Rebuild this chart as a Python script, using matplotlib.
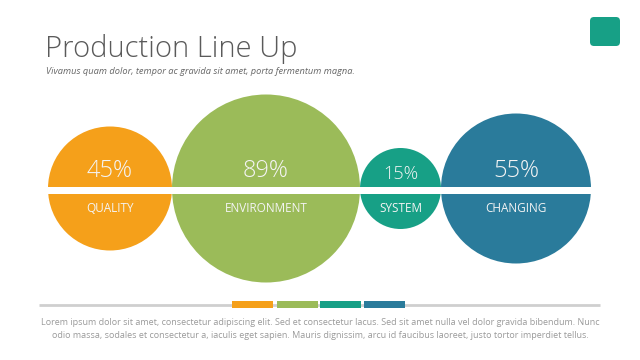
import matplotlib
matplotlib.use("Agg")
import matplotlib.pyplot as plt
from matplotlib import font_manager
from matplotlib.patches import Circle, Rectangle, FancyBboxPatch

# chart data
categories = ["QUALITY", "ENVIRONMENT", "SYSTEM", "CHANGING"]
values = [45, 89, 15, 55]
colors = ["#F5A01A", "#9BBB59", "#17A086", "#2A7B9B"]

title = "Production Line Up"
subtitle = "Vivamus quam dolor, tempor ac gravida sit amet, porta fermentum magna."
footer = [
    "Lorem ipsum dolor sit amet, consectetur adipiscing elit. Sed et consectetur lacus. "
    "Sed sit amet nulla vel dolor gravida bibendum. Nunc",
    "odio massa, sodales et consectetur a, iaculis eget sapien. Mauris dignissim, "
    "arcu id faucibus laoreet, justo tortor imperdiet tellus.",
]

# layout (pixels)
radii = [62, 94, 40.5, 75]
cy = 188.5
x_start = 48

plt.rcParams["font.family"] = ["Open Sans", "DejaVu Sans"]

# use a real light face for the title if one is installed
light_family = "Open Sans"
for fam in ["Open Sans", "Lato", "Roboto", "Inter"]:
    path = font_manager.findfont(font_manager.FontProperties(family=fam, weight="light"),
                                 fallback_to_default=False)
    if "light" in path.lower():
        light_family = fam
        break

fig = plt.figure(figsize=(6.4, 3.6), dpi=100)
ax = fig.add_axes([0, 0, 1, 1])
ax.set_xlim(0, 640)
ax.set_ylim(360, 0)
ax.axis("off")

# circles, tangent chain
x = x_start
for cat, val, col, r in zip(categories, values, colors, radii):
    cx = x + r
    ax.add_patch(Circle((cx, cy), r, color=col, lw=0, zorder=2))
    big = r > 50
    ax.text(cx, 171 if big else 174, f"{val}%", color="#F4F4F4",
            fontsize=17 if big else 13, fontweight="light",
            ha="center", va="center", zorder=4)
    ax.text(cx, 208, cat, color="#F4F4F4", fontsize=8.5,
            ha="center", va="center", zorder=4)
    x = cx + r

# white band across circles
ax.add_patch(Rectangle((x_start - 2, 187), x - x_start + 4, 6.7,
                       color="white", lw=0, zorder=3))

# title and subtitle
t = ax.text(45, 57.5, title, fontsize=23, fontweight="light", color="#5A5A5A",
            family=light_family, ha="left", va="baseline")
fig.canvas.draw()
bb = t.get_window_extent()
if bb.width > 253:
    t.set_fontsize(23 * 253 / bb.width)
ax.text(46, 72, subtitle, fontsize=6.7, style="italic", color="#666666",
        ha="left", va="center")

# top-right square
ax.add_patch(FancyBboxPatch((593, 20), 24, 23,
                            boxstyle="round,pad=3,rounding_size=4",
                            color="#17A086", lw=0))

# bottom rule with colored segments
ax.plot([39, 600], [304.6, 304.6], color="#CFCFCF", lw=2, solid_capstyle="butt")
seg_x = [232.3, 276.7, 320, 364.3]
for sx, col in zip(seg_x, colors):
    ax.add_patch(Rectangle((sx, 300.7), 41, 7.6, color=col, lw=0, zorder=3))

# footer text
ax.text(320, 322.5, footer[0], fontsize=6.45, color="#9A9A9A",
        ha="center", va="center")
ax.text(320, 335, footer[1], fontsize=6.45, color="#9A9A9A",
        ha="center", va="center")

fig.savefig("out.png", dpi=100)
